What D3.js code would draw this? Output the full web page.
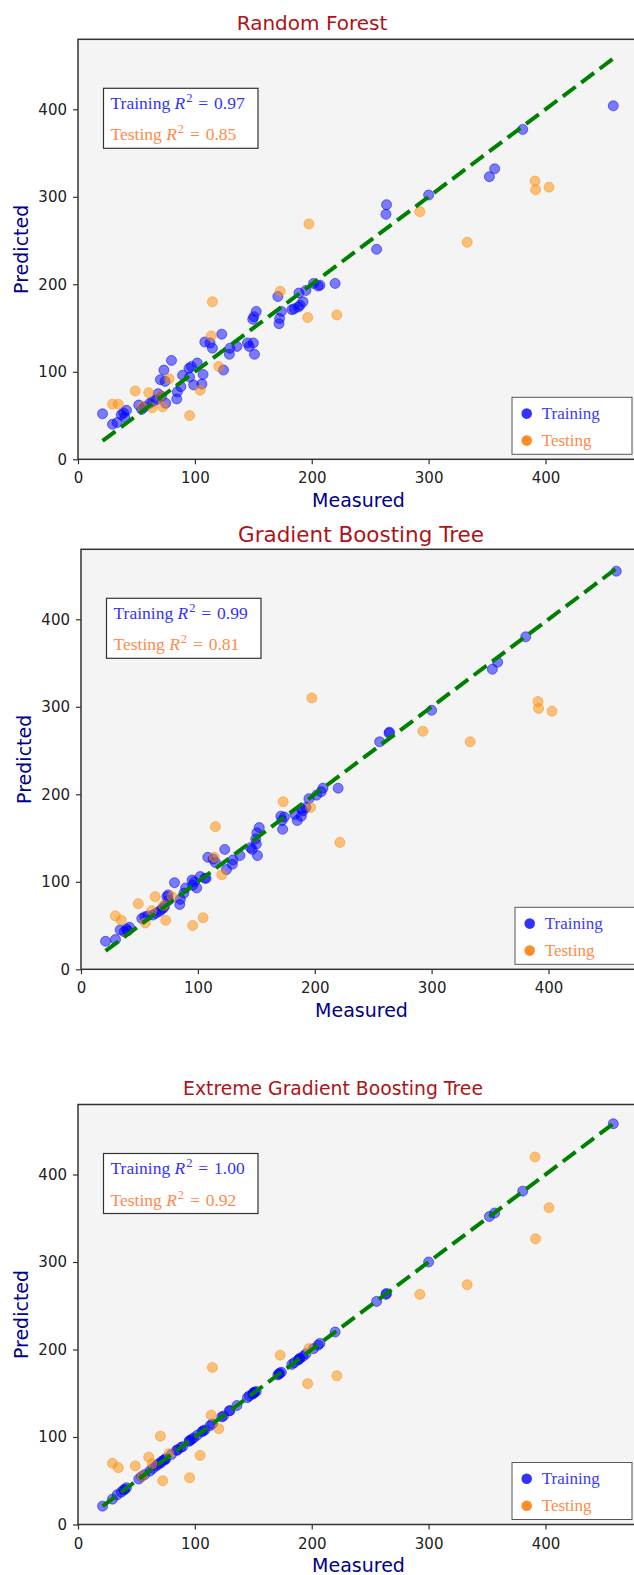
<!DOCTYPE html>
<html>
<head>
<meta charset="utf-8">
<script src="https://cdn.jsdelivr.net/npm/d3@7"></script>
<style>
  body { margin: 0; background: #fff; overflow: hidden; }
  svg text { white-space: pre; }
</style>
</head>
<body>
<div id="chart"></div>
<script>
// Model names and R2 scores
const modelTitles = ["Random Forest", "Gradient Boosting Tree", "Extreme Gradient Boosting Tree"];
const trainR2 = ["0.97", "0.99", "1.00"];
const testR2 = ["0.85", "0.81", "0.92"];
const tickValues = [0, 100, 200, 300, 400];

// Measured values (shared by the three models)
const trainMeasured = [21, 29.5, 33.5, 37, 39, 40, 41.5, 52, 54.5, 57, 61.5, 64, 67, 68.5, 70.5, 71.5, 73.5, 74.5, 75, 80,
  84.5, 85, 88, 89.5, 95, 95.5, 97, 99, 102, 106, 107, 108.5, 113, 115, 123, 124.5, 129.5, 130, 136, 145,
  146.5, 149.5, 150, 150.5, 151, 152.5, 171, 172, 172.5, 174, 183, 185, 188.5, 189, 190, 192.5, 195, 201.5,
  205.5, 207, 220, 255.5, 263.5, 264, 300, 352, 356.5, 380.5, 458];
const testMeasured = [29.5, 34.5, 49, 55, 60.5, 63.5, 70.5, 72.5, 78, 95.5, 104.5, 114, 115, 120.5, 173, 196.5, 197.5,
  221.5, 292.5, 333, 391, 391.5, 403];

// Predicted values
const rfTrain = [52, 40, 42, 51, 53, 48, 56, 62, 57, 60, 64, 66, 68, 75, 91, 72, 102, 89, 64, 113,
  69, 77, 83, 96, 104, 94, 106, 85, 110, 86, 97, 134, 133, 127, 143, 102, 120, 127, 129, 133,
  129, 160, 133, 163, 120, 169, 186, 155, 161, 169, 171, 172, 174, 190, 176, 180, 193, 201,
  198, 199, 201, 240, 280, 291, 302, 323, 332, 377, 404];
const rfTest = [63, 63, 78, 60, 76, 59, 72, 60, 92, 50, 79, 141, 180, 106, 192, 162, 269, 165, 283, 248, 318, 308, 311];

const gbtTrain = [32, 34, 45, 43, 46, 44, 48, 58, 60, 61, 62, 64, 66, 68, 70, 72, 83, 85, 79, 99,
  74, 80, 87, 93, 102, 96, 100, 93, 106, 104, 104, 128, 126, 122, 137, 114, 120, 125, 130, 139,
  137, 149, 143, 156, 130, 162, 175, 170, 160, 174, 177, 170, 175, 183, 181, 185, 195, 199,
  203, 207, 207, 260, 270, 271, 296, 343, 351, 380, 455];
const gbtTest = [61, 56, 75, 53, 67, 83, 73, 56, 83, 50, 59, 128, 163, 108, 191.5, 185, 310, 145, 272, 260, 306, 298, 295];

const xgbTrain = [21, 29, 34, 37, 39.5, 40, 42, 52, 55, 57, 61, 64, 67, 69, 70, 72, 74, 74, 75, 80,
  85, 85, 88, 89, 95, 96, 97, 99, 102, 106, 107, 108, 113, 115, 123, 124, 130, 130, 136, 145,
  147, 149, 150, 151, 151, 152, 171, 172, 173, 174, 183, 185, 188, 189, 190, 192, 195, 201,
  205, 207, 220, 255, 263, 264, 300, 352, 356, 381, 458];
const xgbTest = [70, 65, 67, 55, 77, 69.5, 101, 50, 81, 53.5, 79, 125, 179.5, 109.5, 193.5, 161, 201, 170, 263, 274, 420, 326.5, 362];

const trainPreds = [rfTrain, gbtTrain, xgbTrain];
const testPreds = [rfTest, gbtTest, xgbTest];

// Layout of each panel (left = x of measured 0, bottom = y of predicted 0)
const layout = [
  { left: 78, bottom: 459.3, titleX: 312, titleY: 30, titleSize: 20 },
  { left: 81, bottom: 969.3, titleX: 361, titleY: 541.7, titleSize: 21.5 },
  { left: 78, bottom: 1524.5, titleX: 333, titleY: 1095, titleSize: 18.8 }
];
const plotW = 561, plotH = 420;

const svg = d3.select("#chart").append("svg")
  .attr("width", 634)
  .attr("height", 1575);

const sansFont = "'DejaVu Sans', sans-serif";
const serifFont = "'Liberation Serif', 'Times New Roman', serif";

const lo = d3.min(trainMeasured.concat(testMeasured));
const hi = d3.max(trainMeasured.concat(testMeasured));

layout.forEach((L, i) => {
  const top = L.bottom - plotH;
  const right = L.left + plotW;

  const x = d3.scaleLinear().domain([0, 480]).range([L.left, right]);
  const y = d3.scaleLinear().domain([0, 480]).range([L.bottom, top]);

  const g = svg.append("g");

  // plot background
  g.append("rect")
    .attr("x", L.left).attr("y", top)
    .attr("width", plotW).attr("height", plotH)
    .attr("fill", "#f4f4f4");

  const clipId = "clip" + i;
  svg.append("clipPath").attr("id", clipId)
    .append("rect")
    .attr("x", L.left).attr("y", top)
    .attr("width", plotW).attr("height", plotH);

  const content = g.append("g").attr("clip-path", `url(#${clipId})`);

  // training points
  content.selectAll(".train")
    .data(trainMeasured.map((m, k) => [m, trainPreds[i][k]]))
    .enter()
    .append("circle")
    .attr("cx", d => x(d[0]))
    .attr("cy", d => y(d[1]))
    .attr("r", 5)
    .attr("fill", "blue")
    .attr("fill-opacity", 0.5)
    .attr("stroke", "blue")
    .attr("stroke-opacity", 0.5)
    .attr("stroke-width", 1);

  // testing points
  content.selectAll(".test")
    .data(testMeasured.map((m, k) => [m, testPreds[i][k]]))
    .enter()
    .append("circle")
    .attr("cx", d => x(d[0]))
    .attr("cy", d => y(d[1]))
    .attr("r", 5)
    .attr("fill", "#ff8c00")
    .attr("fill-opacity", 0.5)
    .attr("stroke", "#ff8c00")
    .attr("stroke-opacity", 0.5)
    .attr("stroke-width", 1);

  // 1:1 line
  content.append("path")
    .attr("d", d3.line().x(d => x(d)).y(d => y(d))([lo, hi]))
    .attr("fill", "none")
    .attr("stroke", "green")
    .attr("stroke-width", 4)
    .attr("stroke-dasharray", "16,7");

  // spines
  g.append("rect")
    .attr("x", L.left).attr("y", top)
    .attr("width", plotW).attr("height", plotH)
    .attr("fill", "none")
    .attr("stroke", "#333")
    .attr("stroke-width", 1.5);

  // axes
  const xAxis = g.append("g")
    .attr("transform", `translate(0,${L.bottom})`)
    .call(d3.axisBottom(x).tickValues(tickValues).tickSize(5).tickPadding(8.5));
  const yAxis = g.append("g")
    .attr("transform", `translate(${L.left},0)`)
    .call(d3.axisLeft(y).tickValues(tickValues).tickSize(5).tickPadding(6));
  [xAxis, yAxis].forEach(a => {
    a.select(".domain").remove();
    a.selectAll(".tick line").attr("stroke", "#333").attr("stroke-width", 1.2);
    a.selectAll(".tick text")
      .attr("fill", "#222")
      .attr("font-size", "15px")
      .attr("font-family", sansFont);
  });

  // title
  g.append("text")
    .attr("x", L.titleX)
    .attr("y", L.titleY)
    .attr("text-anchor", "middle")
    .attr("font-family", sansFont)
    .attr("font-size", L.titleSize + "px")
    .attr("fill", "#ac1418")
    .text(modelTitles[i]);

  // axis labels
  g.append("text")
    .attr("x", L.left + plotW / 2)
    .attr("y", L.bottom + 47.5)
    .attr("text-anchor", "middle")
    .attr("font-family", sansFont)
    .attr("font-size", "19px")
    .attr("fill", "#00008b")
    .text("Measured");

  g.append("text")
    .attr("transform", `translate(${L.left - 50},${top + plotH / 2}) rotate(-90)`)
    .attr("text-anchor", "middle")
    .attr("font-family", sansFont)
    .attr("font-size", "19px")
    .attr("fill", "#00008b")
    .text("Predicted");

  // R2 box
  const bx = L.left + 25.5, by = top + 49;
  g.append("rect")
    .attr("x", bx).attr("y", by)
    .attr("width", 154.5).attr("height", 60)
    .attr("fill", "#fff")
    .attr("stroke", "#333")
    .attr("stroke-width", 1.2);

  [["Training", trainR2[i], "#3333ff", 20.5], ["Testing", testR2[i], "#ff8a4c", 52]].forEach(row => {
    const t = g.append("text")
      .attr("x", bx + 7)
      .attr("y", by + row[3])
      .attr("font-family", serifFont)
      .attr("font-size", "17.5px")
      .attr("fill", row[2]);
    t.append("tspan").text(row[0] + " ");
    t.append("tspan").attr("font-style", "italic").text("R");
    t.append("tspan").attr("font-size", "12.5px").attr("dx", 1).attr("dy", -7).text("2");
    t.append("tspan").attr("dy", 7).text("\u2004=\u2004" + row[1]);
  });

  // legend
  const lx = right - 127, ly = L.bottom - 62;
  g.append("rect")
    .attr("x", lx).attr("y", ly)
    .attr("width", 120).attr("height", 57)
    .attr("fill", "#fff")
    .attr("stroke", "#555")
    .attr("stroke-width", 1);

  [["Training", "blue", 0.8, "#3a3aff", 0], ["Testing", "#ff7f0e", 0.9, "#ff8a4c", 27]].forEach(row => {
    g.append("circle")
      .attr("cx", lx + 14.7)
      .attr("cy", ly + 16.3 + row[4])
      .attr("r", 5.3)
      .attr("fill", row[1])
      .attr("fill-opacity", row[2]);
    g.append("text")
      .attr("x", lx + 29.7)
      .attr("y", ly + 21.5 + row[4])
      .attr("font-family", serifFont)
      .attr("font-size", "17px")
      .attr("fill", row[3])
      .text(row[0]);
  });
});
</script>
</body>
</html>
